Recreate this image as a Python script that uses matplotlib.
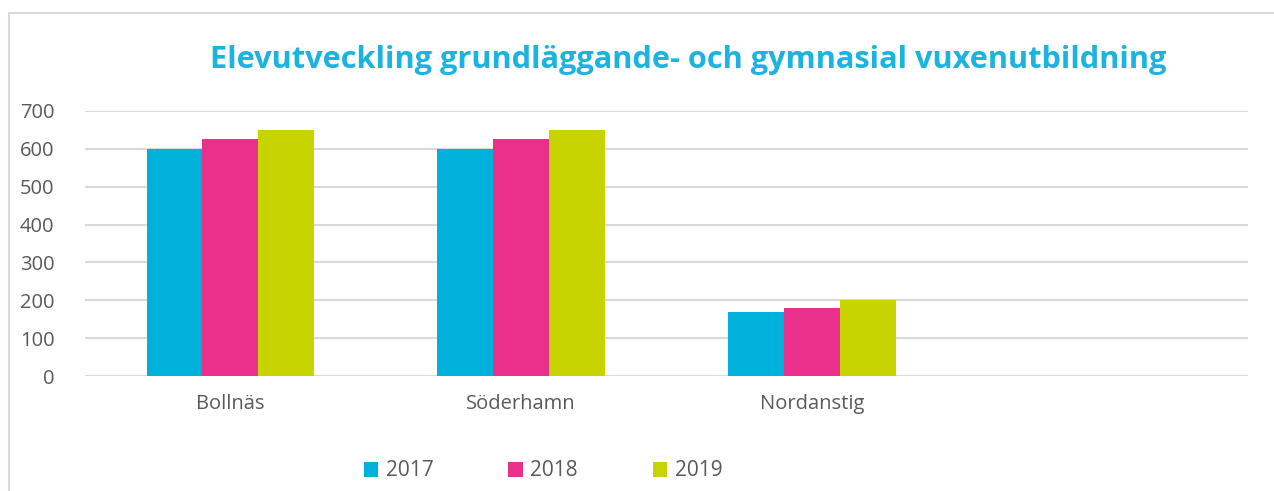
import matplotlib
matplotlib.use("Agg")
import matplotlib.pyplot as plt
import numpy as np
from matplotlib.patches import Rectangle

categories = ["Bollnäs", "Söderhamn", "Nordanstig", ""]
years = ["2017", "2018", "2019"]
v2017 = [600, 600, 170, 0]
v2018 = [625, 625, 180, 0]
v2019 = [650, 650, 200, 0]
yticks = [0, 100, 200, 300, 400, 500, 600, 700]
title = "Elevutveckling grundläggande- och gymnasial vuxenutbildning"

colors = ["#00B2DB", "#E9308A", "#C8D400"]
txt = "#595959"
grid = "#D9D9D9"

plt.rcParams["font.family"] = ["Open Sans", "DejaVu Sans"]

fig = plt.figure(figsize=(12.74, 4.91), dpi=100)
ax = fig.add_axes([85 / 1274, 1 - 376 / 491, 1163 / 1274, 265 / 491])

# frame around the chart area
fig.patches.append(Rectangle((9 / 1274, -0.1), 1.2, 1 - 13 / 491 + 0.1,
                             transform=fig.transFigure, fill=False,
                             edgecolor=grid, linewidth=1.5))

x = np.arange(len(categories))
w = 0.192
for i, (vals, c) in enumerate(zip([v2017, v2018, v2019], colors)):
    ax.bar(x + (i - 1) * w, vals, width=w, color=c, label=years[i], zorder=3)

ax.set_xlim(-0.5, len(categories) - 0.5)
ax.set_ylim(0, 700)
ax.set_yticks(yticks)
ax.set_xticks(x[:3])
ax.set_xticklabels(categories[:3])
ax.tick_params(axis="both", length=0, labelcolor=txt, labelsize=14.5)
ax.tick_params(axis="x", pad=13)
ax.tick_params(axis="y", pad=22)
ax.grid(axis="y", color=grid, linewidth=1.5, zorder=0)
for s in ax.spines.values():
    s.set_visible(False)

t = fig.text(688 / 1274, 1 - 60 / 491, title, ha="center", va="center",
             color="#1BB4E0", fontweight="bold", fontsize=24)
fig.canvas.draw()
wpx = t.get_window_extent().width
t.set_fontsize(24 * 960 / wpx)

fig.legend(loc="center", bbox_to_anchor=(543 / 1274, 20 / 491), ncol=3,
           frameon=False, fontsize=15, labelcolor=txt, handlelength=0.7,
           handleheight=0.7, handletextpad=0.35, columnspacing=3.6)

fig.savefig("out.png", dpi=100)
